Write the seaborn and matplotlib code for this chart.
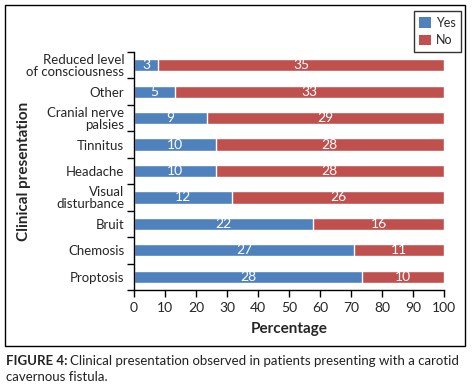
import pandas as pd
import seaborn as sns
import matplotlib.pyplot as plt
from matplotlib.patches import Rectangle, Patch

categories = ['Reduced level\nof consciousness', 'Other', 'Cranial nerve\npalsies',
              'Tinnitus', 'Headache', 'Visual\ndisturbance', 'Bruit', 'Chemosis', 'Proptosis']
yes_counts = [3, 5, 9, 10, 10, 12, 22, 27, 28]
no_counts = [35, 33, 29, 28, 28, 26, 16, 11, 10]

blue = '#4F81BD'
red = '#C0504D'

sns.set_theme(style='white')
plt.rcParams['font.family'] = ['Lato', 'DejaVu Sans']

df = pd.DataFrame({'cat': categories, 'yes': yes_counts, 'no': no_counts})
df['total'] = df['yes'] + df['no']
df['yes_pct'] = df['yes'] / df['total'] * 100
df['all_pct'] = 100.0

fig = plt.figure(figsize=(4.73, 3.89), dpi=100)
ax = fig.add_axes([134 / 473, 1 - 290 / 389, 310 / 473, 238 / 389])

# red full bar first, blue "yes" part on top of it
sns.barplot(data=df, y='cat', x='all_pct', color=red, saturation=1, width=0.46,
            orient='h', ax=ax, legend=False)
sns.barplot(data=df, y='cat', x='yes_pct', color=blue, saturation=1, width=0.46,
            orient='h', ax=ax, legend=False)

no_bars, yes_bars = ax.containers[0], ax.containers[1]
ax.bar_label(yes_bars, labels=[str(v) for v in df['yes']], label_type='center',
             color='white', fontsize=10)
# centre the "no" labels on the red part only
for bar, yb, n in zip(no_bars, yes_bars, df['no']):
    x0 = yb.get_width()
    xc = (x0 + bar.get_width()) / 2
    ax.text(xc, bar.get_y() + bar.get_height() / 2, str(n), ha='center', va='center',
            color='white', fontsize=10)

ax.set_xlim(0, 100)
ax.set_ylim(8.5, -0.5)
ax.set_xticks(range(0, 101, 10))
ax.set_yticks([i - 0.5 for i in range(10)], minor=True)
ax.tick_params(axis='y', which='major', length=0, pad=7, labelsize=9.5)
ax.tick_params(axis='y', which='minor', length=5, width=1, color='black', left=True)
ax.tick_params(axis='x', length=5, width=1, color='black', bottom=True, labelsize=10)
for side in ['top', 'right']:
    ax.spines[side].set_visible(False)
for side in ['left', 'bottom']:
    ax.spines[side].set_color('black')
    ax.spines[side].set_linewidth(1)
ax.set_ylabel('Clinical presentation', fontsize=11, fontweight='bold')
ax.yaxis.set_label_coords(-(134 - 31) / 310, 0.5)
ax.set_xlabel('Percentage', fontsize=11, fontweight='bold', labelpad=6)
for lab in ax.get_yticklabels():
    lab.set_ha('right')
    lab.set_multialignment('right')
    lab.set_linespacing(1.0)

handles = [Patch(facecolor=blue, edgecolor='none'), Patch(facecolor=red, edgecolor='none')]
leg = fig.legend(handles, ['Yes', 'No'],
                 loc='upper right', bbox_to_anchor=(461 / 473, 1 - 11 / 389),
                 fontsize=9, frameon=True, fancybox=False, handlelength=0.9,
                 handleheight=0.9, handletextpad=0.4, borderpad=0.45,
                 labelspacing=0.45, borderaxespad=0)
leg.get_frame().set_edgecolor('black')
leg.get_frame().set_linewidth(1)

fig.patches.append(Rectangle((5 / 473, 1 - 346 / 389), 460 / 473, 341 / 389,
                             transform=fig.transFigure, fill=False,
                             edgecolor='black', linewidth=1))

fig.text(6 / 473, 1 - 361 / 389, 'FIGURE 4:', fontsize=9.5, fontweight='bold',
         va='center', ha='left', color='#222222')
fig.text(70 / 473, 1 - 361 / 389,
         'Clinical presentation observed in patients presenting with a carotid',
         fontsize=9.5, va='center', ha='left', color='#222222')
fig.text(6 / 473, 1 - 377 / 389, 'cavernous fistula.', fontsize=9.5,
         va='center', ha='left', color='#222222')

fig.savefig('out.png', dpi=100)
